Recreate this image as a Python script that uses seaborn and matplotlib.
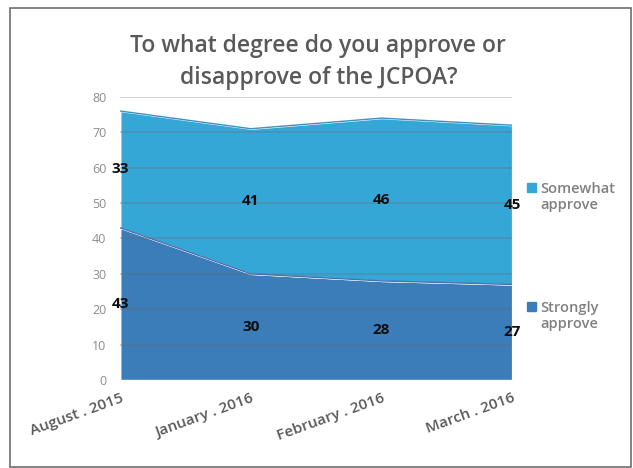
import matplotlib
matplotlib.use("Agg")
import matplotlib.pyplot as plt
import seaborn as sns
import numpy as np
from matplotlib.patches import Rectangle

# values
months = ["August . 2015", "January . 2016", "February . 2016", "March . 2016"]
strongly = [43, 30, 28, 27]
somewhat = [33, 41, 46, 45]
colors = ["#3a7db8", "#35a7d7"]

sns.set_theme(style="white")
plt.rcParams["font.family"] = ["Open Sans", "DejaVu Sans"]

fig = plt.figure(figsize=(6.33, 4.68), dpi=100)
ax = fig.add_axes([0.190, 0.188, 0.619, 0.605])

x = np.arange(len(months))
ax.stackplot(x, strongly, somewhat, colors=colors, zorder=1)

top = np.array(strongly) + np.array(somewhat)
sns.lineplot(x=x, y=strongly, ax=ax, color="#4a6fb0", lw=1, zorder=2)
sns.lineplot(x=x, y=top, ax=ax, color="#3f8fc0", lw=1, zorder=2)

ax.set_xlim(0, len(months) - 1)
ax.set_ylim(0, 80)
ax.set_yticks(range(0, 81, 10))
for yv in range(10, 81, 10):
    ax.axhline(yv, color="#6a6a6a", alpha=0.35, lw=1.2, zorder=3)

# data labels centred in each band
for i in range(len(months)):
    ax.text(x[i], strongly[i] / 2, str(strongly[i]), ha="center", va="center",
            fontsize=11, fontweight="bold", color="#0d0d0d", zorder=4)
    ax.text(x[i], strongly[i] + somewhat[i] / 2, str(somewhat[i]), ha="center", va="center",
            fontsize=11, fontweight="bold", color="#0d0d0d", zorder=4)

ax.set_xticks(x)
ax.set_xticklabels(months, rotation=20, ha="right", rotation_mode="anchor",
                   fontsize=11, fontweight="semibold", color="#595959")
ax.tick_params(axis="y", labelsize=9, labelcolor="#8c8c8c", length=0, pad=10)
ax.tick_params(axis="x", length=0, pad=8)
for s in ax.spines.values():
    s.set_visible(False)

fig.text(0.503, 0.868, "To what degree do you approve or\ndisapprove of the JCPOA?",
         ha="center", va="center", fontsize=16.5, fontweight="semibold",
         color="#595959", linespacing=1.45)

# legend on the right
fig.patches.append(Rectangle((527 / 633, 1 - 192 / 468), 9 / 633, 9 / 468,
                             transform=fig.transFigure, color=colors[1]))
fig.text(540 / 633, 1 - 197 / 468, "Somewhat\napprove", ha="left", va="center",
         fontsize=10.5, fontweight="semibold", color="#808080", linespacing=1.2)
fig.patches.append(Rectangle((527 / 633, 1 - 311 / 468), 9 / 633, 9 / 468,
                             transform=fig.transFigure, color=colors[0]))
fig.text(540 / 633, 1 - 316 / 468, "Strongly\napprove", ha="left", va="center",
         fontsize=10.5, fontweight="semibold", color="#808080", linespacing=1.2)

# outer frame
fig.patches.append(Rectangle((10 / 633, 1 / 468), 621 / 633, 459 / 468,
                             transform=fig.transFigure, fill=False,
                             edgecolor="#6e6e6e", lw=1.2))

fig.savefig("out.png", dpi=100)
